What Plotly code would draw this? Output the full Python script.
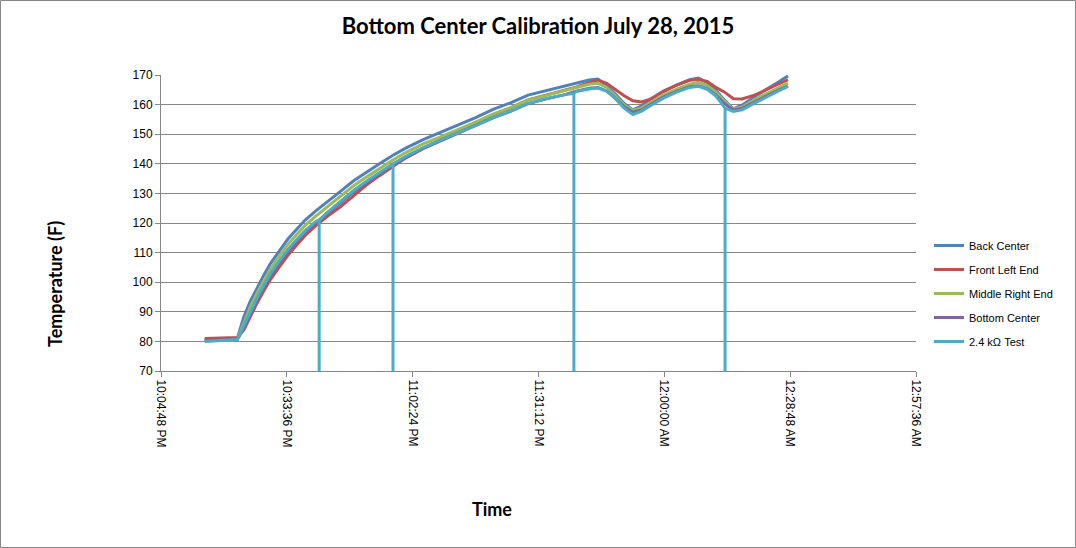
import pandas as pd
import plotly.graph_objects as go

# minutes after 10:04:48 PM
minutes = [10, 12, 14, 16, 17.5, 19, 20.5, 22, 23.5, 25, 27, 29, 31, 33, 35.5, 38, 41, 44, 47, 50,
           53, 56, 60, 64, 68, 72, 76, 80, 84, 88, 92, 95, 98, 100, 102, 104, 106, 108, 110, 112,
           115, 118, 121, 123, 125, 127, 129, 131, 133, 136, 139, 141.5, 143.5]

back_center = [80.4, 80.5, 80.6, 80.7, 81.2, 88.5, 93.8, 98.2, 102.3, 106.2, 110.5, 114.5, 117.8, 121.0,
               124.2, 127.0, 130.6, 134.2, 137.2, 140.0, 142.8, 145.3, 148.2, 150.6, 153.0, 155.6, 158.4,
               160.6, 163.2, 164.7, 166.2, 167.4, 168.3, 168.6, 166.4, 163.6, 160.4, 158.2, 159.6, 161.8,
               164.6, 166.6, 168.4, 169.0, 167.4, 164.8, 161.4, 158.6, 159.8, 162.8, 165.4, 167.8, 169.7]

front_left = [81.0, 81.1, 81.2, 81.3, 81.3, 84.0, 88.6, 93.0, 97.0, 100.8, 105.0, 109.0, 112.5, 115.8,
              119.2, 122.2, 125.4, 129.0, 132.8, 136.0, 139.1, 142.0, 145.3, 148.2, 150.9, 153.8, 156.6,
              158.9, 161.6, 163.2, 164.6, 165.9, 167.4, 168.3, 167.2, 165.0, 163.0, 161.3, 160.9, 161.8,
              164.4, 166.6, 168.2, 168.5, 167.8, 165.8, 164.2, 162.0, 161.9, 163.3, 165.4, 167.2, 168.4]

middle_right = [80.1, 80.2, 80.4, 80.5, 80.8, 86.5, 91.8, 96.4, 100.5, 104.4, 108.7, 112.7, 116.0, 119.2,
                122.4, 125.3, 128.9, 132.5, 135.5, 138.4, 141.2, 143.8, 146.7, 149.1, 151.5, 154.1, 156.8,
                159.0, 161.5, 163.1, 164.6, 165.9, 166.9, 167.2, 165.8, 163.0, 159.9, 158.0, 158.9, 160.6,
                163.2, 165.2, 166.9, 167.5, 166.4, 164.2, 161.0, 158.5, 159.2, 161.8, 163.9, 165.8, 167.3]

bottom_center = [80.3, 80.4, 80.5, 80.6, 80.7, 84.6, 89.6, 94.0, 98.2, 102.0, 106.4, 110.4, 113.7, 117.0,
                 120.2, 123.1, 126.7, 130.4, 133.6, 136.6, 139.4, 142.0, 145.1, 147.7, 150.1, 152.8, 155.5,
                 157.7, 160.3, 161.9, 163.2, 164.5, 165.5, 165.8, 164.6, 162.2, 159.3, 157.4, 158.2, 160.0,
                 162.5, 164.5, 166.0, 166.4, 165.4, 163.3, 160.3, 158.2, 158.7, 161.0, 163.2, 165.0, 166.2]

test_24k = [80.0, 80.2, 80.4, 80.5, 80.6, 85.5, 90.4, 94.8, 98.9, 102.8, 107.0, 111.0, 114.3, 117.4,
            120.6, 123.5, 127.2, 130.9, 134.1, 137.0, 139.9, 142.5, 145.5, 148.0, 150.4, 153.0, 155.6,
            157.8, 160.4, 162.0, 163.2, 164.4, 165.3, 165.6, 164.6, 162.0, 158.8, 156.6, 157.8, 159.6,
            162.2, 164.2, 165.8, 166.2, 165.2, 162.9, 158.8, 157.7, 158.2, 160.6, 162.8, 164.8, 166.2]

# the 2.4 kOhm test reading drops out four times
drop_minutes = [36.2, 53.1, 94.5, 129.1]
drop_tops = [121.0, 140.0, 163.8, 158.8]
drop_floor = 0

series = [
    ("Back Center", back_center, "#4F81BD"),
    ("Front Left End", front_left, "#C0504D"),
    ("Middle Right End", middle_right, "#9BBB59"),
    ("Bottom Center", bottom_center, "#8064A2"),
]

start = pd.Timestamp("2015-07-28 22:04:48")
times = [start + pd.Timedelta(minutes=m) for m in minutes]

# merge the drop-outs into the test trace
pts = [(m, 0, v) for m, v in zip(minutes, test_24k)]
for m, top in zip(drop_minutes, drop_tops):
    pts += [(m, 1, top), (m, 2, drop_floor), (m, 3, top)]
pts.sort(key=lambda p: (p[0], p[1]))
test_times = [start + pd.Timedelta(minutes=p[0]) for p in pts]
test_vals = [p[2] for p in pts]

fig = go.Figure()
for i, (name, vals, color) in enumerate(series):
    fig.add_trace(go.Scatter(x=times, y=vals, mode="lines", name=name, legendgroup=str(i),
                             line=dict(color=color, width=3)))
fig.add_trace(go.Scatter(x=test_times, y=test_vals, mode="lines", name="2.4 kΩ Test", legendgroup="4",
                         line=dict(color="#4BACC6", width=3)))

grid = "#878787"
bold_font = "Lato, Open Sans, sans-serif"
L, R, T, B = 161, 916, 75, 371
W, H = 1076, 548
pw, ph = R - L, B - T

fig.update_layout(
    width=W, height=H,
    margin=dict(l=L, r=W - R, t=T, b=H - B),
    paper_bgcolor="white", plot_bgcolor="white",
    font=dict(family="Liberation Sans, Arial, sans-serif", size=12, color="black"),
    title=dict(text="<b>Bottom Center Calibration July 28, 2015</b>", x=538 / W, xanchor="center",
               y=1 - 26 / H, yanchor="middle", font=dict(family=bold_font, size=22)),
    showlegend=True,
    legend=dict(x=(929 - L) / pw, xanchor="left", y=(B - 231) / ph, yanchor="top",
                tracegroupgap=5, font=dict(size=11), bgcolor="rgba(0,0,0,0)"),
    xaxis=dict(
        type="date",
        range=[start, start + pd.Timedelta(minutes=172.8)],
        tick0=start, dtick=1728000, tickformat="%-I:%M:%S %p",
        tickangle=90, ticks="outside", ticklen=5, tickcolor=grid,
        showgrid=False, showline=True, linecolor=grid, zeroline=False,
    ),
    yaxis=dict(
        range=[70, 170], dtick=10, ticks="outside", ticklen=5, tickcolor=grid,
        showgrid=True, gridcolor=grid, gridwidth=1, showline=True, linecolor=grid, zeroline=False,
    ),
    annotations=[
        dict(text="<b>Temperature (F)</b>", x=(55 - L) / pw, y=(B - 284) / ph, xref="paper", yref="paper",
             xanchor="center", yanchor="middle", textangle=-90, showarrow=False,
             font=dict(family=bold_font, size=18)),
        dict(text="<b>Time</b>", x=(492 - L) / pw, y=(B - 509) / ph, xref="paper", yref="paper",
             xanchor="center", yanchor="middle", showarrow=False,
             font=dict(family=bold_font, size=18)),
    ],
    shapes=[
        dict(type="rect", xref="paper", yref="paper",
             x0=(0.5 - L) / pw, x1=(W - 0.5 - L) / pw, y0=(B - (H - 0.5)) / ph, y1=(B - 0.5) / ph,
             line=dict(color="#868686", width=1), layer="below"),
    ],
)

fig.write_html("out.html", config={"displayModeBar": False},
               post_script="document.body.style.margin='0';")
